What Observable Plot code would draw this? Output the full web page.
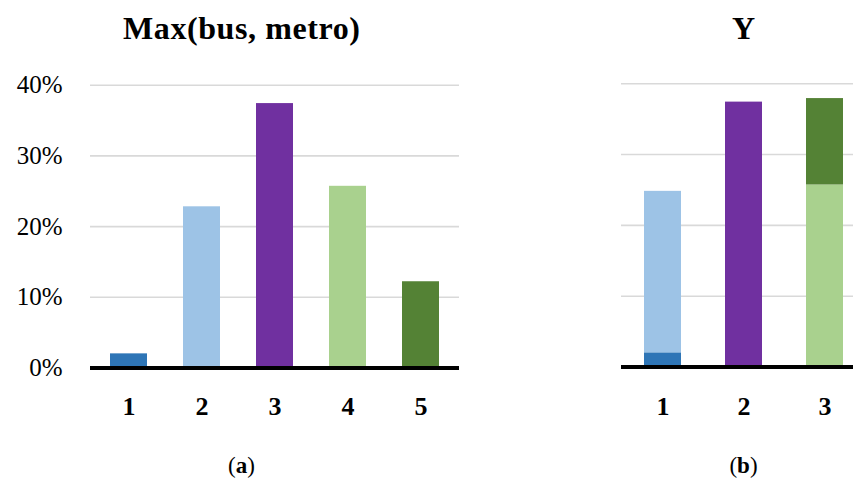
<!DOCTYPE html>
<html>
<head>
<meta charset="utf-8">
<script src="https://cdn.jsdelivr.net/npm/d3@7"></script>
<script src="https://cdn.jsdelivr.net/npm/@observablehq/plot@0.6"></script>
<style>
  html, body { margin: 0; padding: 0; background: #fff; }
  #wrap { position: relative; width: 853px; height: 478px; overflow: hidden; background: #fff; }
  #wrap > * { position: absolute; top: 0; }
</style>
</head>
<body>
<div id="wrap"></div>
<script>
// Panel (a): Max(bus, metro)
const categoriesA = ["1", "2", "3", "4", "5"];
const valuesA = [2.0, 22.8, 37.4, 25.7, 12.2];
const colorsA = ["#2E75B6", "#9DC3E6", "#7030A0", "#A9D18E", "#548235"];

// Panel (b): Y — each series of (a) stacked into a group
const categoriesB = ["1", "2", "3"];
const groupOfA = ["1", "1", "2", "3", "3"];

const yTicks = [0, 10, 20, 30, 40];
const gridTicks = [10, 20, 30, 40];
const titles = ["Max(bus, metro)", "Y"];
const captions = ["a", "b"];

const dataA = categoriesA.map((c, i) => ({cat: c, value: valuesA[i], color: colorsA[i]}));
const dataB = categoriesA.map((c, i) => ({cat: groupOfA[i], value: valuesA[i], color: colorsA[i], order: i}));

const SERIF = "'Liberation Serif', 'DejaVu Serif', serif";
const H = 478, MT = 84.7, MB = 110.5;

const plotA = Plot.plot({
  width: 470, height: H,
  marginLeft: 90, marginRight: 11, marginTop: MT, marginBottom: MB,
  style: {fontFamily: SERIF, color: "#000", background: "transparent", overflow: "visible"},
  x: {domain: categoriesA, paddingInner: 0.5, paddingOuter: 0.25},
  y: {domain: [0, 40]},
  color: {type: "identity"},
  marks: [
    Plot.ruleY(gridTicks, {stroke: "#d9d9d9", strokeWidth: 1.6}),
    Plot.barY(dataA, {x: "cat", y: "value", fill: "color"}),
    Plot.ruleY([0], {stroke: "#000", strokeWidth: 4}),
    Plot.axisX({tickSize: 0, tickPadding: 29, label: null, fontSize: 26, fontWeight: "bold", fill: "#000"}),
    Plot.axisY({ticks: yTicks, tickSize: 0, tickPadding: 28, label: null, tickFormat: d => d + "%", fontSize: 25, fill: "#000"})
  ]
});

const plotB = Plot.plot({
  width: 253, height: H,
  marginLeft: 21, marginRight: 0, marginTop: MT - 1.5, marginBottom: MB + 1,
  style: {fontFamily: SERIF, color: "#000", background: "transparent", overflow: "visible"},
  x: {domain: categoriesB, range: [22, 265], paddingInner: 0.543, paddingOuter: 0.2715},
  y: {domain: [0, 40], axis: null},
  color: {type: "identity"},
  marks: [
    Plot.ruleY(gridTicks, {stroke: "#d9d9d9", strokeWidth: 1.6}),
    Plot.barY(dataB, {x: "cat", y: "value", fill: "color", order: "order"}),
    Plot.ruleY([0], {stroke: "#000", strokeWidth: 4}),
    Plot.axisX({tickSize: 0, tickPadding: 30, label: null, fontSize: 26, fontWeight: "bold", fill: "#000"})
  ]
});

const wrap = document.getElementById("wrap");
plotA.style.left = "0px";
plotB.style.left = "600px";
wrap.appendChild(plotA);
wrap.appendChild(plotB);

// titles and captions
const svg = d3.select(wrap).append("svg")
  .attr("width", 853).attr("height", H)
  .style("left", "0px").style("pointer-events", "none");
const centers = [241.5, 743.5];
titles.forEach((t, i) => {
  svg.append("text").attr("x", centers[i]).attr("y", 39)
    .attr("text-anchor", "middle")
    .style("font-family", SERIF).style("font-weight", "bold").style("font-size", "32px")
    .attr("textLength", i === 0 ? 237 : null)
    .text(t);
});
captions.forEach((c, i) => {
  const txt = svg.append("text").attr("x", centers[i]).attr("y", 473)
    .attr("text-anchor", "middle")
    .style("font-family", SERIF).style("font-size", "23px");
  txt.append("tspan").text("(");
  txt.append("tspan").style("font-weight", "bold").text(c);
  txt.append("tspan").text(")");
});
</script>
</body>
</html>
